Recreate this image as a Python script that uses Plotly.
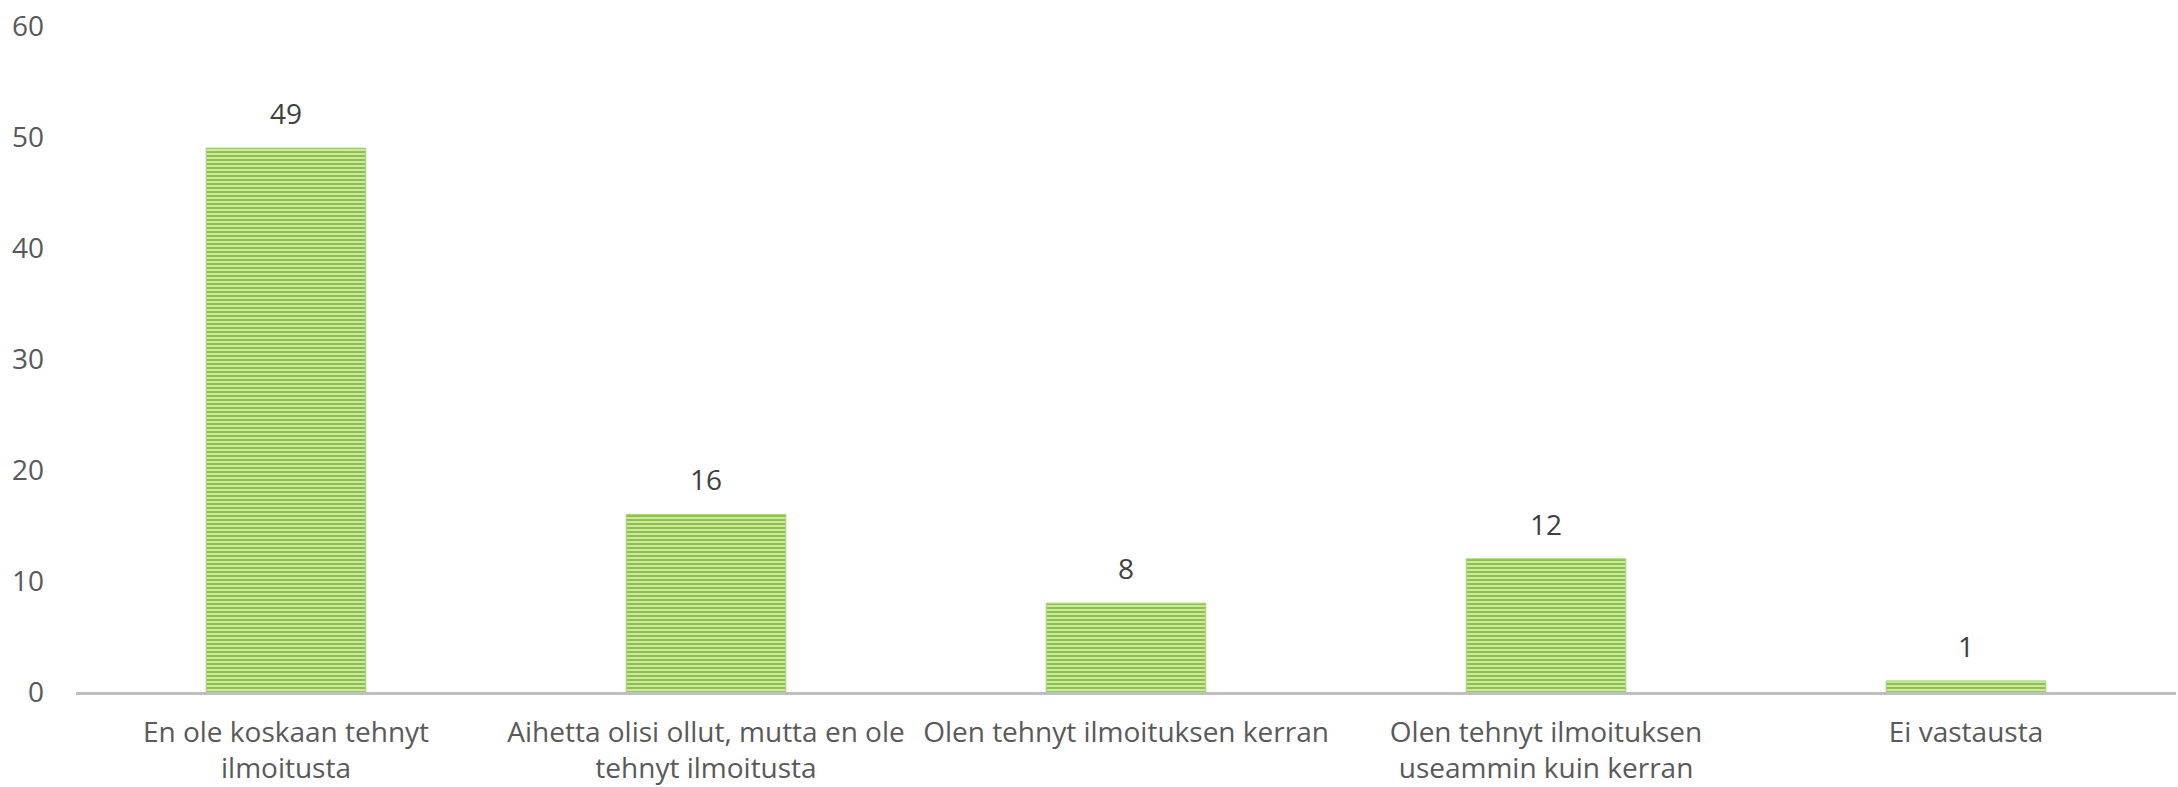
import plotly.graph_objects as go

categories = [
    "En ole koskaan tehnyt<br>ilmoitusta",
    "Aihetta olisi ollut, mutta en ole<br>tehnyt ilmoitusta",
    "Olen tehnyt ilmoituksen kerran",
    "Olen tehnyt ilmoituksen<br>useammin kuin kerran",
    "Ei vastausta",
]
values = [49, 16, 8, 12, 1]
y_ticks = [0, 10, 20, 30, 40, 50, 60]

FONT = "Open Sans"

fig = go.Figure()
fig.add_trace(go.Bar(
    x=categories,
    y=values,
    marker=dict(
        color="#c9e4a6",
        line=dict(color="#a9d37a", width=1),
        pattern=dict(shape="-", fgcolor="#8cc540", bgcolor="#d2e9b6",
                     size=4, solidity=0.55, fillmode="replace"),
    ),
    hoverinfo="skip",
))

for c, v in zip(categories, values):
    fig.add_annotation(
        x=c, y=v, text=str(v), showarrow=False,
        yanchor="bottom", yshift=14,
        font=dict(family=FONT, size=28, color="#404040"),
    )

fig.update_layout(
    width=2178, height=787,
    margin=dict(l=76, r=2, t=26, b=95),
    paper_bgcolor="white", plot_bgcolor="white",
    bargap=0.62,
    showlegend=False,
    font=dict(family=FONT, size=28, color="#595959"),
)
fig.update_xaxes(
    showline=True, linecolor="#bfbfbf", linewidth=3,
    showgrid=False, ticks="", tickfont=dict(family=FONT, size=28, color="#595959"),
    ticklabelstandoff=13,
)
fig.update_yaxes(
    range=[0, 60], tickvals=y_ticks, showgrid=False, zeroline=False,
    showline=False, ticks="", tickfont=dict(family=FONT, size=28, color="#595959"),
    ticklabelstandoff=31,
)

fig.write_html(
    "out.html",
    config={"displayModeBar": False},
    post_script="document.body.style.margin='0';document.body.style.overflow='hidden';",
)
